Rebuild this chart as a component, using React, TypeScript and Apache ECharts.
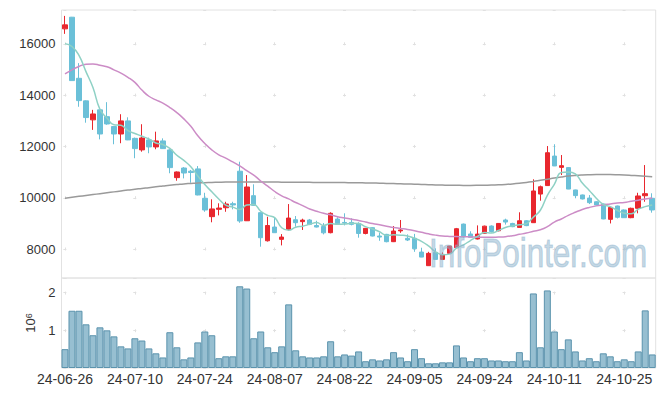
import React, { useEffect, useRef } from 'react';
import * as echarts from 'echarts';

const dates = [
  '24-06-26', '24-06-27', '24-06-28', '24-07-01', '24-07-02', '24-07-03', '24-07-04', '24-07-05', '24-07-08', '24-07-09',
  '24-07-10', '24-07-11', '24-07-12', '24-07-15', '24-07-16', '24-07-17', '24-07-18', '24-07-19', '24-07-22', '24-07-23',
  '24-07-24', '24-07-25', '24-07-26', '24-07-29', '24-07-30', '24-07-31', '24-08-01', '24-08-02', '24-08-05', '24-08-06',
  '24-08-07', '24-08-08', '24-08-09', '24-08-12', '24-08-13', '24-08-14', '24-08-16', '24-08-19', '24-08-20', '24-08-21',
  '24-08-22', '24-08-23', '24-08-26', '24-08-27', '24-08-28', '24-08-29', '24-08-30', '24-09-02', '24-09-03', '24-09-04',
  '24-09-05', '24-09-06', '24-09-09', '24-09-10', '24-09-11', '24-09-12', '24-09-13', '24-09-19', '24-09-20', '24-09-23',
  '24-09-24', '24-09-25', '24-09-26', '24-09-27', '24-09-30', '24-10-02', '24-10-04', '24-10-07', '24-10-08', '24-10-10',
  '24-10-11', '24-10-14', '24-10-15', '24-10-16', '24-10-17', '24-10-18', '24-10-21', '24-10-22', '24-10-23', '24-10-24',
  '24-10-25', '24-10-28', '24-10-29', '24-10-30', '24-10-31',
];

const opens = [
  16585, 17040, 14660, 13780, 13040, 13430, 13165, 12780, 12490, 13000,
  12320, 11870, 12260, 11985, 12220, 11870, 10790, 11165, 11040, 11130,
  9985, 9270, 9555, 9617, 9775, 11040, 9110, 10087, 9425, 8330,
  8865, 8385, 8775, 9150, 9075, 9140, 8925, 8885, 8645, 9177,
  9045, 9045, 9005, 8615, 8840, 8515, 8580, 8295, 8715, 8425,
  8425, 7890, 7360, 7880, 7605, 7840, 8060, 8980, 8595, 8400,
  8620, 8905, 8720, 9140, 9005, 8850, 9110, 9035, 10150, 10480,
  11630, 11190, 11180, 10310, 10115, 9995, 9850, 9760, 9165, 9685,
  9530, 9230, 9595, 10085, 9985,
];
const closes = [
  16741, 14570, 13790, 13130, 13270, 12490, 12880, 12490, 13000, 12260,
  11920, 12335, 11985, 12220, 11920, 11180, 11010, 10970, 10990, 10115,
  9530, 9570, 9605, 9762, 9725, 9100, 10425, 9710, 8450, 8925,
  8645, 8475, 9215, 9035, 9135, 8970, 8865, 8640, 9400, 8995,
  9020, 8970, 8615, 8815, 8515, 8475, 8295, 8710, 8750, 8360,
  8020, 7695, 7840, 7605, 7800, 8125, 8800, 8490, 8465, 8590,
  8900, 8690, 9005, 9060, 8880, 9110, 8920, 10270, 10435, 11760,
  11245, 11255, 10345, 10090, 9960, 9815, 9725, 9180, 9630, 9245,
  9230, 9595, 10075, 10165, 9530,
];
const lows = [
  16390, 14570, 13550, 12930, 12650, 12280, 12850, 12090, 12130, 12250,
  11545, 11800, 11740, 11895, 11910, 10960, 10670, 10760, 10590, 10100,
  9460, 9050, 9320, 9460, 9555, 9030, 9100, 9700, 8100, 8300,
  8640, 8150, 8720, 8880, 8750, 8940, 8850, 8580, 8620, 8960,
  8930, 8930, 8450, 8580, 8500, 8330, 8270, 8280, 8640, 8320,
  7900, 7690, 7350, 7600, 7600, 7830, 8050, 8450, 8440, 8380,
  8600, 8650, 8700, 8960, 8860, 8840, 8900, 9030, 9890, 10470,
  11240, 10890, 10340, 9985, 9940, 9760, 9700, 9170, 9005, 9200,
  9220, 9210, 9400, 9850, 9425,
];
const highs = [
  17090, 17050, 15250, 13800, 13430, 13450, 13730, 12800, 13260, 13140,
  12350, 12870, 12350, 12580, 12320, 11900, 11030, 11200, 11090, 11240,
  10200, 9945, 9790, 9850, 9850, 11410, 10890, 10530, 9430, 9265,
  9245, 8590, 9760, 9295, 9190, 9180, 9110, 9020, 9440, 9245,
  9400, 9205, 9050, 8830, 8860, 8645, 8600, 8905, 9140, 8580,
  8600, 8060, 7900, 8035, 7880, 8130, 8830, 9000, 8700, 8930,
  8920, 8930, 9020, 9190, 9030, 9440, 9130, 10725, 10480, 12020,
  12090, 11670, 11200, 10320, 10130, 10110, 9870, 9780, 9650, 9700,
  9550, 9620, 10200, 11280, 10180,
];

// trading volume, shares
const volumes = [
  500000, 1520000, 1520000, 1160000, 870000, 1080000, 1000000, 840000, 575000, 520000,
  790000, 730000, 520000, 390000, 280000, 950000, 550000, 230000, 280000, 680000,
  970000, 870000, 260000, 310000, 310000, 2170000, 2110000, 790000, 970000, 550000,
  420000, 575000, 1690000, 470000, 310000, 280000, 280000, 310000, 710000, 310000,
  360000, 330000, 440000, 180000, 230000, 200000, 230000, 420000, 280000, 180000,
  500000, 260000, 125000, 125000, 150000, 150000, 600000, 280000, 180000, 260000,
  260000, 200000, 200000, 180000, 180000, 420000, 200000, 1980000, 550000, 2060000,
  970000, 500000, 760000, 440000, 200000, 260000, 180000, 390000, 310000, 180000,
  230000, 180000, 440000, 1530000, 360000,
];

const ma5 = [
  16010, 15900, 15550, 14920, 14300, 13450, 13110, 12850, 12830, 12620,
  12510, 12400, 12300, 12140, 12080, 11930, 11660, 11460, 11210, 10850,
  10520, 10240, 9960, 9720, 9640, 9550, 9720, 9740, 9480, 9320,
  9230, 8840, 8740, 8860, 8900, 8970, 9040, 8930, 9000, 8970,
  8980, 9010, 9000, 8880, 8790, 8680, 8540, 8560, 8550, 8520,
  8430, 8310, 8130, 7900, 7790, 7810, 8040, 8170, 8340, 8500,
  8650, 8630, 8730, 8850, 8910, 8950, 9000, 9250, 9520, 10100,
  10530, 10990, 11010, 10940, 10580, 10290, 9990, 9750, 9660, 9520,
  9400, 9380, 9560, 9660, 9720,
];
const ma20 = [
  14830, 14990, 15120, 15210, 15220, 15170, 15110, 14990, 14860, 14700,
  14500, 14200, 13960, 13820, 13690, 13520, 13320, 13080, 12790, 12420,
  12120, 11870, 11680, 11550, 11400, 11245, 11060, 10890, 10660, 10460,
  10250, 10080, 9960, 9820, 9700, 9570, 9480, 9400, 9340, 9270,
  9220, 9170, 9120, 9060, 9000, 8950, 8900, 8850, 8810, 8770,
  8720, 8660, 8600, 8550, 8515, 8500, 8495, 8488, 8482, 8475,
  8465, 8465, 8475, 8490, 8530, 8580, 8630, 8700, 8760, 8880,
  9060, 9180, 9320, 9440, 9550, 9630, 9690, 9730, 9765, 9800,
  9820, 9870, 9910, 9960, 10000,
];
const ma120 = [
  9990, 10025, 10060, 10095, 10130, 10165, 10200, 10235, 10270, 10305,
  10335, 10370, 10400, 10435, 10465, 10495, 10520, 10545, 10565, 10585,
  10595, 10605, 10612, 10618, 10620, 10622, 10622, 10620, 10620, 10618,
  10616, 10614, 10612, 10610, 10608, 10606, 10604, 10602, 10600, 10598,
  10596, 10594, 10590, 10585, 10580, 10572, 10565, 10558, 10550, 10542,
  10535, 10525, 10515, 10505, 10498, 10492, 10490, 10488, 10488, 10490,
  10495, 10500, 10510, 10525, 10545, 10570, 10600, 10640, 10685, 10730,
  10775, 10815, 10850, 10875, 10892, 10903, 10910, 10912, 10908, 10900,
  10890, 10876, 10860, 10842, 10822,
];

const UP = '#e8272e';
const DOWN = '#6bc0d8';
const FONT = '"Liberation Sans", Arial, sans-serif';
const GRIDC = '#e0e0e0';
const TXT = '#333333';

export default function App() {
  const ref = useRef<HTMLDivElement>(null);
  useEffect(() => {
    const chart = echarts.init(ref.current as HTMLDivElement, null, { renderer: 'svg' });
    const candles = dates.map((_, i) => [opens[i], closes[i], lows[i], highs[i]]);
    const option: any = {
      animation: false,
      backgroundColor: '#ffffff',
      grid: [
        { left: 61.5, right: 9.3, top: 10, height: 268, show: true, borderColor: '#e2e2e2', borderWidth: 1 },
        { left: 61.5, right: 9.3, top: 278, height: 90, show: true, borderColor: '#e2e2e2', borderWidth: 1 },
      ],
      xAxis: [
        {
          type: 'category', gridIndex: 0, data: dates, boundaryGap: true,
          axisLine: { show: false }, axisTick: { show: false }, axisLabel: { show: false },
          splitLine: { show: true, interval: 9, alignWithLabel: true, lineStyle: { color: GRIDC, width: 1, type: [3, 48.3], dashOffset: 18.8 } },
        },
        {
          type: 'category', gridIndex: 1, data: dates, boundaryGap: true,
          axisLine: { show: false }, axisTick: { show: false },
          axisLabel: { interval: 9, fontSize: 14, color: TXT, fontFamily: FONT, margin: 4 },
          splitLine: { show: true, interval: 9, alignWithLabel: true, lineStyle: { color: GRIDC, width: 1, type: [3, 34.6], dashOffset: 24.4 } },
        },
      ],
      yAxis: [
        {
          type: 'value', gridIndex: 0, min: 6880, max: 17320, splitNumber: 5,
          axisLine: { show: false }, axisTick: { show: false },
          axisLabel: {
            fontSize: 13, color: TXT, fontFamily: FONT, margin: 6, showMinLabel: false, showMaxLabel: false,
            formatter: (v: number) => String(v),
          },
          splitLine: { show: true, lineStyle: { color: GRIDC, width: 1, type: [3, 66.9], dashOffset: 67.9 } },
        },
        {
          type: 'value', gridIndex: 1, min: 0, max: 2390000, splitNumber: 2,
          name: '{b|10}{s|6}', nameLocation: 'middle', nameRotate: 90, nameGap: 22,
          nameTextStyle: {
            rich: {
              b: { fontSize: 13, fontFamily: FONT, color: TXT },
              s: { fontSize: 9, fontFamily: FONT, color: TXT, verticalAlign: 'top' },
            },
          },
          axisLine: { show: false }, axisTick: { show: false },
          axisLabel: {
            fontSize: 13, color: TXT, fontFamily: FONT, margin: 6, showMinLabel: false, showMaxLabel: false,
            formatter: (v: number) => String(Math.round(v / 1e6)),
          },
          splitLine: { show: true, lineStyle: { color: GRIDC, width: 1, type: [3, 66.9], dashOffset: 67.9 } },
        },
      ],
      series: [
        {
          type: 'candlestick', xAxisIndex: 0, yAxisIndex: 0, data: candles, barWidth: 5,
          itemStyle: { color: UP, color0: DOWN, borderColor: UP, borderColor0: DOWN, borderWidth: 1 },
        },
        {
          type: 'line', xAxisIndex: 0, yAxisIndex: 0, data: ma120, symbol: 'none', smooth: true,
          lineStyle: { color: '#9a9a9a', width: 1.5 },
        },
        {
          type: 'line', xAxisIndex: 0, yAxisIndex: 0, data: ma20, symbol: 'none', smooth: true,
          lineStyle: { color: '#cc8cc6', width: 1.5 },
        },
        {
          type: 'line', xAxisIndex: 0, yAxisIndex: 0, data: ma5, symbol: 'none', smooth: true,
          lineStyle: { color: '#8fd1c5', width: 1.5 },
        },
        {
          type: 'bar', xAxisIndex: 1, yAxisIndex: 1, data: volumes, barCategoryGap: '0%',
          itemStyle: { color: '#97bfd1', borderColor: '#5b93ad', borderWidth: 1 },
        },
      ],
      graphic: [
        {
          type: 'text', x: 429, y: 253, scaleX: 0.785, z: 100,
          style: {
            text: 'InfoPointer.com', fill: 'rgba(140,178,203,0.5)',
            stroke: 'rgba(140,178,203,0.45)', lineWidth: 1.2,
            font: '40px "Liberation Sans", Arial, sans-serif', textVerticalAlign: 'middle',
          },
        },
      ],
    };
    chart.setOption(option);
    return () => chart.dispose();
  }, []);
  return <div ref={ref} style={{ position: 'absolute', left: 0, top: 0, width: 665, height: 396 }} />;
}
